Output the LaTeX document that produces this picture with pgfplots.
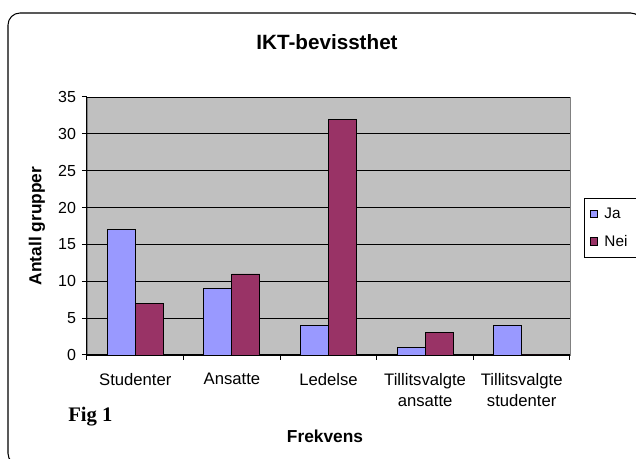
\documentclass[border=0pt]{standalone}
\usepackage{pgfplots}
\pgfplotsset{compat=1.18}
\usepackage{fontspec}
\setmainfont{Liberation Sans}
\newfontfamily\timesfont{Liberation Serif}
\definecolor{jaC}{HTML}{9999FF}
\definecolor{neiC}{HTML}{993366}
\definecolor{bgC}{HTML}{C0C0C0}
\begin{document}
\begin{tikzpicture}
\useasboundingbox (0pt,0pt) rectangle (477pt,-344.25pt);
\draw[black, line width=0.8pt, rounded corners=9pt] (6pt,-9.75pt) rectangle (482pt,-349pt);
\begin{axis}[
  at={(65.25pt,-266.25pt)}, anchor=south west,
  scale only axis, width=362.25pt, height=193.5pt,
  xmin=-0.5, xmax=4.5, ymin=0, ymax=35,
  ybar=0pt, bar width=21pt,
  axis background/.style={fill=bgC, draw=gray},
  axis x line*=bottom, axis y line*=left,
  axis line style={black, line width=0.75pt},
  ytick={0,5,...,35},
  ymajorgrids, grid style={black, line width=0.6pt},
  xtick={0,1,2,3,4},
  xticklabels={Studenter,Ansatte,Ledelse,{Tillitsvalgte\\ansatte},{Tillitsvalgte\\studenter}},
  minor xtick={-0.5,0.5,1.5,2.5,3.5,4.5},
  major x tick style={draw=none},
  tick align=outside,
  major tick length=3.75pt, minor tick length=3.75pt,
  tick style={black, line width=0.75pt},
  /pgf/number format/assume math mode=true,
  yticklabel style={font=\fontsize{12}{15}\selectfont, xshift=-1pt},
  xticklabel style={font=\fontsize{12.5}{15.5}\selectfont, align=center, yshift=-6.5pt},
  legend style={at={(1.029,0.6085)}, anchor=north west, draw=black, line width=0.6pt,
    font=\fontsize{11.5}{13}\selectfont, row sep=7pt, inner xsep=4pt, inner ysep=5pt,
    nodes={inner xsep=3pt}},
  legend cell align=left,
  legend image code/.code={\draw[#1, line width=0.5pt] (0pt,-2.8pt) rectangle (5.6pt,2.8pt); \path (7.5pt,0pt);},
]
\addplot[draw=black, line width=0.6pt, fill=jaC] coordinates {(0,17) (1,9) (2,4) (3,1) (4,4)};
\addplot[draw=black, line width=0.6pt, fill=neiC] coordinates {(0,7) (1,11) (2,32) (3,3) (4,0)};
\legend{Ja,Nei}
\end{axis}
\node[font=\bfseries\fontsize{15.5}{18}\selectfont] at (245.25pt,-31.5pt) {IKT-bevissthet};
\node[font=\bfseries\fontsize{13}{15}\selectfont, rotate=90] at (27.75pt,-169.5pt) {Antall grupper};
\node[font=\bfseries\fontsize{13}{15}\selectfont] at (243.75pt,-327pt) {Frekvens};
\node[font=\timesfont\bfseries\fontsize{15.5}{18}\selectfont, anchor=base west, inner sep=0pt] at (51pt,-316.5pt) {Fig 1};
\end{tikzpicture}
\end{document}
